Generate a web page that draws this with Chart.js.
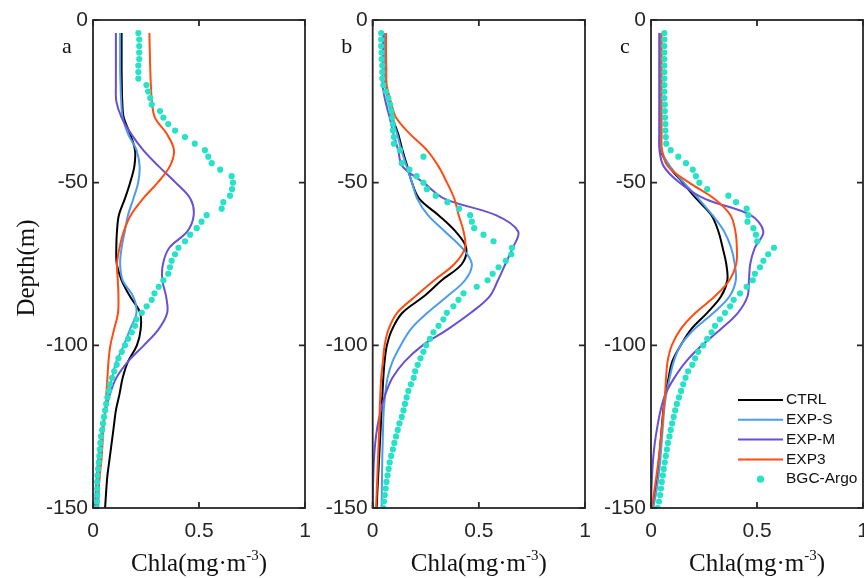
<!DOCTYPE html>
<html>
<head>
<meta charset="utf-8">
<script src="https://cdn.jsdelivr.net/npm/chart.js@4.4.1/dist/chart.umd.min.js"></script>
<style>
  html, body { margin: 0; padding: 0; background: #fff; }
  #fig { position: relative; width: 864px; height: 578px; overflow: hidden; }
  .panel { position: absolute; top: 0; height: 578px; }
</style>
</head>
<body>
<div id="fig">
  <div class="panel" style="left:0;width:320px"><canvas id="cA"></canvas></div>
  <div class="panel" style="left:315px;width:285px"><canvas id="cB"></canvas></div>
  <div class="panel" style="left:595px;width:285px"><canvas id="cC"></canvas></div>
</div>
<script>
// depth (m) of the model profile samples
const depthLine = [-4, -10, -15, -20, -25, -30, -35, -40, -45, -50, -55, -60, -65, -70, -75,
  -80, -85, -90, -95, -100, -105, -110, -115, -120, -125, -130, -135, -140, -145, -150];

// depth (m) of the float samples
const depthArgo = [-4, -6, -8, -10, -12, -14, -16, -18, -20, -22, -24, -26, -28, -30, -32, -34,
  -36, -38, -40, -42, -44, -46, -48, -50, -52, -54, -56, -58, -60, -62, -64, -66, -68, -70,
  -72, -74, -76, -78, -80, -82, -84, -86, -88, -90, -92, -94, -96, -98, -100, -102, -104,
  -106, -108, -110, -112, -114, -116, -118, -120, -122, -124, -126, -128, -130, -132, -134,
  -136, -138, -140, -142, -144, -146, -148, -150];

const seriesNames = ['CTRL', 'EXP-S', 'EXP-M', 'EXP3', 'BGC-Argo'];
const xTicks = [0, 0.5, 1];
const yTicks = [0, -50, -100, -150];

// panel a
const ctrlA = [0.135, 0.135, 0.135, 0.136, 0.138, 0.145, 0.175, 0.198, 0.195, 0.175, 0.15, 0.122, 0.113, 0.11, 0.112,
  0.135, 0.175, 0.222, 0.225, 0.207, 0.165, 0.14, 0.125, 0.108, 0.098, 0.088, 0.078, 0.068, 0.062, 0.057];
const expSA = [0.128, 0.128, 0.128, 0.13, 0.133, 0.14, 0.165, 0.205, 0.22, 0.213, 0.19, 0.165, 0.15, 0.135, 0.128,
  0.14, 0.19, 0.205, 0.175, 0.145, 0.11, 0.09, 0.07, 0.058, 0.048, 0.04, 0.035, 0.03, 0.027, 0.025];
const expMA = [0.108, 0.108, 0.108, 0.108, 0.11, 0.135, 0.18, 0.237, 0.31, 0.39, 0.46, 0.475, 0.445, 0.36, 0.33,
  0.327, 0.345, 0.35, 0.31, 0.24, 0.165, 0.11, 0.08, 0.06, 0.045, 0.035, 0.025, 0.018, 0.013, 0.01];
const exp3A = [0.266, 0.268, 0.27, 0.273, 0.278, 0.292, 0.348, 0.382, 0.362, 0.305, 0.235, 0.178, 0.145, 0.125, 0.113,
  0.117, 0.12, 0.118, 0.1, 0.082, 0.073, 0.068, 0.063, 0.058, 0.05, 0.045, 0.04, 0.032, 0.025, 0.017];
const argoA = [0.214, 0.218, 0.218, 0.218, 0.218, 0.214, 0.214, 0.214, 0.252, 0.26, 0.27, 0.277, 0.316, 0.332, 0.355,
  0.387, 0.434, 0.48, 0.528, 0.544, 0.56, 0.6, 0.654, 0.66, 0.656, 0.646, 0.615, 0.607, 0.536, 0.512, 0.489,
  0.458, 0.434, 0.403, 0.387, 0.371, 0.363, 0.355, 0.332, 0.31, 0.29, 0.277, 0.253, 0.23, 0.205, 0.198, 0.183,
  0.166, 0.151, 0.136, 0.12, 0.112, 0.1, 0.09, 0.08, 0.075, 0.068, 0.062, 0.057, 0.052, 0.047, 0.043, 0.038,
  0.035, 0.032, 0.03, 0.027, 0.024, 0.021, 0.02, 0.02, 0.02, 0.018, 0.017];

// panel b
const ctrlB = [0.058, 0.058, 0.058, 0.06, 0.075, 0.092, 0.12, 0.14, 0.163, 0.185, 0.22, 0.31, 0.39, 0.44, 0.42,
  0.325, 0.24, 0.14, 0.092, 0.067, 0.056, 0.05, 0.046, 0.042, 0.038, 0.034, 0.03, 0.026, 0.022, 0.019];
const expSB = [0.058, 0.058, 0.058, 0.06, 0.075, 0.09, 0.115, 0.135, 0.16, 0.185, 0.21, 0.26, 0.34, 0.42, 0.467,
  0.435, 0.35, 0.258, 0.18, 0.132, 0.093, 0.07, 0.059, 0.052, 0.049, 0.047, 0.045, 0.044, 0.043, 0.042];
const expMB = [0.05, 0.048, 0.047, 0.047, 0.06, 0.08, 0.098, 0.12, 0.14, 0.24, 0.34, 0.58, 0.685, 0.66, 0.625,
  0.59, 0.55, 0.462, 0.355, 0.235, 0.15, 0.093, 0.06, 0.038, 0.022, 0.012, 0.006, 0.003, 0.001, 0];
const exp3B = [0.063, 0.063, 0.064, 0.066, 0.085, 0.11, 0.175, 0.255, 0.31, 0.35, 0.385, 0.405, 0.428, 0.435, 0.385,
  0.29, 0.2, 0.115, 0.075, 0.056, 0.048, 0.04, 0.036, 0.033, 0.031, 0.028, 0.025, 0.022, 0.019, 0.016];
const argoB = [0.04, 0.04, 0.04, 0.042, 0.042, 0.045, 0.045, 0.045, 0.05, 0.063, 0.074, 0.082, 0.088, 0.092, 0.095,
  0.095, 0.1, 0.1, 0.128, 0.239, 0.137, 0.173, 0.207, 0.239, 0.255, 0.297, 0.352, 0.407, 0.459, 0.467, 0.478,
  0.522, 0.569, 0.656, 0.653, 0.627, 0.593, 0.565, 0.541, 0.49, 0.428, 0.404, 0.38, 0.349, 0.333, 0.31, 0.286,
  0.27, 0.252, 0.239, 0.225, 0.212, 0.2, 0.193, 0.18, 0.168, 0.16, 0.152, 0.145, 0.137, 0.126, 0.118, 0.11,
  0.102, 0.095, 0.087, 0.08, 0.075, 0.07, 0.065, 0.061, 0.057, 0.053, 0.05];

// panel c
const ctrlC = [0.042, 0.042, 0.042, 0.042, 0.042, 0.042, 0.042, 0.046, 0.085, 0.15, 0.215, 0.285, 0.318, 0.338, 0.355,
  0.36, 0.33, 0.265, 0.19, 0.14, 0.1, 0.083, 0.068, 0.058, 0.051, 0.045, 0.038, 0.03, 0.02, 0.008];
const expSC = [0.045, 0.045, 0.045, 0.045, 0.045, 0.045, 0.045, 0.048, 0.09, 0.155, 0.225, 0.29, 0.345, 0.378, 0.395,
  0.4, 0.37, 0.295, 0.205, 0.14, 0.107, 0.088, 0.072, 0.062, 0.056, 0.05, 0.044, 0.036, 0.025, 0.011];
const expMC = [0.039, 0.039, 0.039, 0.039, 0.039, 0.039, 0.039, 0.04, 0.06, 0.135, 0.255, 0.47, 0.53, 0.49, 0.468,
  0.462, 0.455, 0.41, 0.33, 0.24, 0.165, 0.11, 0.068, 0.045, 0.03, 0.018, 0.01, 0.005, 0.002, 0];
const exp3C = [0.05, 0.05, 0.05, 0.05, 0.05, 0.05, 0.05, 0.052, 0.08, 0.18, 0.3, 0.375, 0.398, 0.405, 0.402,
  0.37, 0.3, 0.21, 0.14, 0.098, 0.078, 0.071, 0.066, 0.059, 0.052, 0.044, 0.036, 0.026, 0.015, 0.003];
const argoC = [0.063, 0.063, 0.063, 0.063, 0.063, 0.063, 0.063, 0.063, 0.063, 0.063, 0.063, 0.065, 0.065, 0.066, 0.068,
  0.068, 0.07, 0.072, 0.093, 0.129, 0.165, 0.197, 0.212, 0.228, 0.265, 0.365, 0.401, 0.451, 0.459, 0.455, 0.483,
  0.495, 0.501, 0.58, 0.553, 0.53, 0.514, 0.49, 0.48, 0.451, 0.42, 0.39, 0.373, 0.349, 0.325, 0.302, 0.286,
  0.265, 0.247, 0.223, 0.208, 0.195, 0.175, 0.163, 0.152, 0.142, 0.132, 0.122, 0.114, 0.107, 0.1, 0.093, 0.087,
  0.08, 0.075, 0.07, 0.065, 0.06, 0.056, 0.051, 0.047, 0.043, 0.038, 0.031];

const colors = ['#000000', '#4a9cf0', '#6a4fd4', '#ff4d12', '#26e2c6'];
const axisColor = '#262626';

function lineSet(i, values) {
  return {
    label: seriesNames[i],
    data: depthLine.map((d, k) => ({ x: values[k], y: d })),
    showLine: true,
    borderColor: colors[i],
    backgroundColor: colors[i],
    borderWidth: 2,
    pointRadius: 0,
    tension: 0.35,
    order: 4 - i,
  };
}

function argoSet(values) {
  return {
    label: seriesNames[4],
    data: depthArgo.map((d, k) => ({ x: values[k], y: d })),
    showLine: false,
    backgroundColor: colors[4],
    borderWidth: 0,
    pointRadius: 3.1,
    order: 0,
  };
}

// frame, inner ticks, panel letter, titles and legend
const framePlugin = {
  id: 'frame',
  afterDraw(chart, args, opts) {
    const { ctx, chartArea: a, scales: { x, y } } = chart;
    ctx.save();
    ctx.strokeStyle = axisColor;
    ctx.lineWidth = 1.8;
    ctx.strokeRect(a.left, a.top, a.right - a.left, a.bottom - a.top);
    const tl = 6;
    ctx.beginPath();
    x.ticks.forEach((t) => {
      const px = x.getPixelForValue(t.value);
      ctx.moveTo(px, a.bottom); ctx.lineTo(px, a.bottom - tl);
      ctx.moveTo(px, a.top); ctx.lineTo(px, a.top + tl);
    });
    y.ticks.forEach((t) => {
      const py = y.getPixelForValue(t.value);
      ctx.moveTo(a.left, py); ctx.lineTo(a.left + tl, py);
      ctx.moveTo(a.right, py); ctx.lineTo(a.right - tl, py);
    });
    ctx.stroke();

    ctx.fillStyle = '#111';
    ctx.font = '22px "Liberation Serif", "Times New Roman", serif';
    ctx.textAlign = 'center';
    ctx.textBaseline = 'alphabetic';
    ctx.fillText(opts.letter, a.left - 26, a.top + 33);

    // x title with superscript
    const big = '25px "Liberation Serif", "Times New Roman", serif';
    const small = '15px "Liberation Serif", "Times New Roman", serif';
    const p1 = 'Chla(mg\u00b7m', p2 = '-3', p3 = ')';
    ctx.font = big; const w1 = ctx.measureText(p1).width; const w3 = ctx.measureText(p3).width;
    ctx.font = small; const w2 = ctx.measureText(p2).width;
    let tx = (a.left + a.right) / 2 - (w1 + w2 + w3) / 2;
    const ty = 571;
    ctx.textAlign = 'left';
    ctx.font = big; ctx.fillText(p1, tx, ty); tx += w1;
    ctx.font = small; ctx.fillText(p2, tx, ty - 11); tx += w2;
    ctx.font = big; ctx.fillText(p3, tx, ty);

    if (opts.yTitle) {
      ctx.save();
      ctx.translate(27, 268);
      ctx.rotate(-Math.PI / 2);
      ctx.textAlign = 'center';
      ctx.textBaseline = 'middle';
      ctx.font = big;
      ctx.fillText(opts.yTitle, 0, 0);
      ctx.restore();
    }

    if (opts.legend) {
      const x0 = a.left + 87, x1 = a.left + 132, xt = a.left + 135;
      let ly = a.top + 380;
      ctx.font = '15.5px "Liberation Sans", Arial, sans-serif';
      ctx.textBaseline = 'middle';
      ctx.textAlign = 'left';
      chart.data.datasets.forEach((ds) => {
        if (ds.showLine) {
          ctx.strokeStyle = ds.borderColor;
          ctx.lineWidth = 2;
          ctx.beginPath(); ctx.moveTo(x0, ly); ctx.lineTo(x1, ly); ctx.stroke();
        } else {
          ctx.fillStyle = ds.backgroundColor;
          ctx.beginPath(); ctx.arc((x0 + x1) / 2, ly, 3.6, 0, Math.PI * 2); ctx.fill();
        }
        ctx.fillStyle = '#111';
        ctx.fillText(ds.label, xt, ly);
        ly += 19.8;
      });
    }
    ctx.restore();
  },
};

const tickFont = { family: '"Liberation Sans", Arial, sans-serif', size: 21 };

function makePanel(id, sets, yWidth, padRight, frameOpts) {
  new Chart(document.getElementById(id), {
    type: 'scatter',
    data: { datasets: sets },
    options: {
      responsive: true,
      maintainAspectRatio: false,
      animation: false,
      layout: { padding: { left: 0, right: padRight, top: 20, bottom: 0 } },
      plugins: { legend: { display: false }, tooltip: { enabled: false }, frame: frameOpts },
      scales: {
        x: {
          type: 'linear', min: 0, max: 1,
          afterBuildTicks: (s) => { s.ticks = xTicks.map((v) => ({ value: v })); },
          afterFit: (s) => { s.height = 70; s.paddingLeft = 0; s.paddingRight = 0; },
          grid: { display: false, drawTicks: false },
          border: { display: false },
          ticks: { padding: 11, color: axisColor, font: tickFont, callback: (v) => String(v) },
        },
        y: {
          type: 'linear', min: -150, max: 0,
          afterBuildTicks: (s) => { s.ticks = yTicks.map((v) => ({ value: v })); },
          afterFit: (s) => { s.width = yWidth; s.paddingTop = 0; s.paddingBottom = 0; },
          grid: { display: false, drawTicks: false },
          border: { display: false },
          ticks: { padding: 5, color: axisColor, font: tickFont, callback: (v) => String(v) },
        },
      },
    },
    plugins: [framePlugin],
  });
}

makePanel('cA', [lineSet(0, ctrlA), lineSet(1, expSA), lineSet(2, expMA), lineSet(3, exp3A), argoSet(argoA)],
  93, 15, { letter: 'a', yTitle: 'Depth(m)' });
makePanel('cB', [lineSet(0, ctrlB), lineSet(1, expSB), lineSet(2, expMB), lineSet(3, exp3B), argoSet(argoB)],
  57.7, 15, { letter: 'b' });
makePanel('cC', [lineSet(0, ctrlC), lineSet(1, expSC), lineSet(2, expMC), lineSet(3, exp3C), argoSet(argoC)],
  56, 17, { letter: 'c', legend: true });
</script>
</body>
</html>
